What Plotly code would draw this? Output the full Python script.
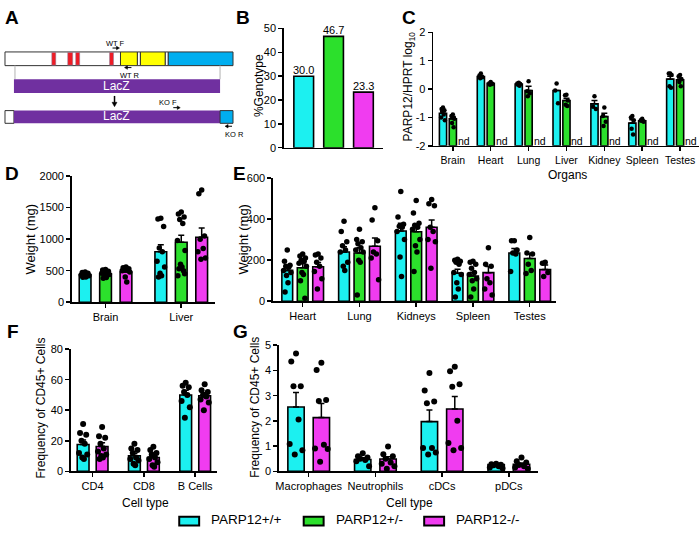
import plotly.graph_objects as go

W, H = 700, 534
FONT = "Arial, Liberation Sans, sans-serif"
CYAN = "#1CF0F0"
GREEN = "#2CE02C"
MAGENTA = "#F03CF0"

genotypes = ["PARP12+/+", "PARP12+/-", "PARP12-/-"]

# ---------------- Panel B ----------------
b_values = [30.0, 46.7, 23.3]

# ---------------- Panel C ----------------
c_organs = ["Brain", "Heart", "Lung", "Liver", "Kidney", "Spleen", "Testes"]
c_wt_mean = [-0.85, 0.44, 0.18, -0.05, -0.52, -1.2, 0.35]
c_wt_sem = [0.07, 0.04, 0.03, 0.0, 0.12, 0.12, 0.1]
c_het_mean = [-1.05, 0.2, -0.05, -0.4, -0.97, -1.12, 0.33]
c_het_sem = [0.08, 0.03, 0.15, 0.08, 0.12, 0.03, 0.06]
c_ko_label = ["nd"] * 7
c_wt_pts = [[-0.65, -0.7, -0.75, -0.8, -0.9, -1.0, -1.1],
            [0.55, 0.48, 0.42, 0.38],
            [0.22, 0.2, 0.18, 0.15, 0.12],
            [0.2, -0.05, -0.5],
            [-0.25, -0.62, -0.7],
            [-0.95, -1.0, -1.1, -1.4, -1.6],
            [0.55, 0.55, 0.5, 0.1, 0.05]]
c_het_pts = [[-0.9, -0.95, -1.05, -1.2, -1.35],
             [0.25, 0.2, 0.18, 0.15],
             [0.28, -0.08, -0.15, -0.25],
             [-0.2, -0.22, -0.4, -0.55, -0.6],
             [-0.65, -0.95, -1.15, -1.3],
             [-1.05, -1.1, -1.15, -1.12],
             [0.5, 0.45, 0.35, 0.25, 0.1]]

# ---------------- Panel D ----------------
d_organs = ["Brain", "Liver"]
d_wt_mean = [440, 800]
d_het_mean = [450, 950]
d_ko_mean = [480, 1030]
d_wt_sem = [12, 110]
d_het_sem = [15, 110]
d_ko_sem = [22, 145]
d_wt_pts = [[480, 470, 460, 450, 440, 430, 420, 410, 400, 395],
            [1330, 1320, 1200, 860, 800, 650, 560, 460, 420, 400]]
d_het_pts = [[520, 510, 490, 480, 470, 460, 440, 420, 390, 380],
             [1430, 1400, 1350, 1310, 1250, 980, 820, 600, 560, 530, 500, 450, 420]]
d_ko_pts = [[560, 545, 530, 520, 510, 500, 480, 400, 320],
            [1780, 1720, 1050, 1000, 850, 800, 700, 680]]

# ---------------- Panel E ----------------
e_organs = ["Heart", "Lung", "Kidneys", "Spleen", "Testes"]
e_wt_mean = [150, 240, 342, 136, 235]
e_het_mean = [163, 235, 338, 123, 208]
e_ko_mean = [168, 268, 360, 139, 154]
e_wt_sem = [15, 25, 38, 20, 22]
e_het_sem = [20, 25, 32, 18, 25]
e_ko_sem = [20, 40, 35, 30, 22]
e_wt_pts = [[250, 195, 175, 170, 165, 150, 140, 125, 90, 45],
            [390, 340, 290, 270, 250, 240, 190, 170, 150],
            [535, 410, 375, 365, 360, 340, 300, 215, 120],
            [205, 200, 195, 190, 180, 140, 130, 90, 60, 20],
            [295, 295, 250, 235, 230, 145]]
e_het_pts = [[230, 220, 210, 200, 195, 185, 170, 140, 130, 100, 15],
             [350, 300, 290, 280, 260, 250, 240, 200, 190, 30],
             [490, 430, 380, 370, 360, 350, 300, 270, 240, 145],
             [195, 190, 180, 160, 140, 130, 110, 100, 60, 20],
             [310, 235, 230, 180, 150, 135]]
e_ko_pts = [[230, 225, 210, 190, 170, 145, 110, 60],
            [455, 395, 295, 240, 230, 210, 105],
            [495, 475, 465, 360, 340, 300, 290, 160],
            [260, 180, 170, 110, 90, 60, 30],
            [190, 185, 140, 120]]

# ---------------- Panel F ----------------
f_cells = ["CD4", "CD8", "B Cells"]
f_wt_mean = [17.5, 10.2, 50.0]
f_ko_mean = [16.2, 9.0, 49.5]
f_wt_sem = [3.0, 1.7, 3.0]
f_ko_sem = [2.5, 1.5, 2.0]
f_wt_pts = [[31, 25, 24, 20, 18, 12, 11, 9, 8],
            [18, 15, 14, 12, 9, 8, 7, 5, 4],
            [58, 56, 55, 52, 50, 46, 42, 35]]
f_ko_pts = [[29, 23, 22, 18, 15, 13, 11, 10, 9, 8],
            [16, 14, 12, 11, 9, 8, 6, 4, 3],
            [57, 53, 52, 50, 49, 47, 45, 40]]

# ---------------- Panel G ----------------
g_cells = ["Macrophages", "Neutrophils", "cDCs", "pDCs"]
g_wt_mean = [2.55, 0.47, 1.97, 0.27]
g_ko_mean = [2.13, 0.49, 2.47, 0.28]
g_wt_sem = [0.57, 0.07, 0.46, 0.03]
g_ko_sem = [0.56, 0.09, 0.5, 0.05]
g_wt_pts = [[4.67, 4.35, 3.37, 3.37, 2.05, 1.08, 0.83, 0.67],
            [0.72, 0.6, 0.55, 0.5, 0.45, 0.4, 0.2],
            [3.9, 3.2, 2.77, 2.7, 0.92, 0.92, 0.75, 0.67],
            [0.3, 0.28, 0.26, 0.24, 0.2, 0.15, 0.12]]
g_ko_pts = [[4.3, 4.02, 2.83, 2.79, 1.05, 0.9, 0.88, 0.38],
            [0.98, 0.68, 0.6, 0.5, 0.35, 0.3, 0.2, 0.1],
            [4.15, 3.97, 3.45, 3.35, 2.0, 1.12, 0.92, 0.83],
            [0.55, 0.4, 0.35, 0.25, 0.2, 0.15, 0.1]]

# ======================================================================
fig = go.Figure()
JIT = [0.0, -0.75, 0.75, -0.4, 0.4, -1.0, 1.0, -0.2, 0.2, -0.6, 0.6, 0.9, -0.9]
shapes = []
annots = []


def ax_names(n):
    return ("xaxis" if n == 1 else f"xaxis{n}", "yaxis" if n == 1 else f"yaxis{n}",
            "x" if n == 1 else f"x{n}", "y" if n == 1 else f"y{n}")


def panel(n, xd, yd, xr, yr, yticks, tickvals=None, ticktext=None, xticks=True,
          xfont=11, yticktext=None):
    xk, yk, xr_, yr_ = ax_names(n)
    common = dict(showline=True, linecolor="black", linewidth=1.5, showgrid=False,
                  zeroline=False, ticklen=4, tickwidth=1.5, tickcolor="black",
                  fixedrange=True)
    xa = dict(domain=[xd[0] / W, xd[1] / W], range=xr, anchor=yr_,
              ticks="outside" if xticks else "",
              tickfont=dict(size=xfont, color="black", family=FONT), **common)
    if tickvals is not None:
        xa.update(tickvals=tickvals, ticktext=ticktext)
    else:
        xa.update(showticklabels=False)
    fig.layout[xk] = xa
    fig.layout[yk] = dict(domain=[1 - yd[1] / H, 1 - yd[0] / H], range=yr, anchor=xr_,
                          ticks="outside", tickvals=yticks,
                          ticktext=yticktext if yticktext else ["%g" % t for t in yticks],
                          tickfont=dict(size=11, color="black", family=FONT), **common)


def bars(n, centers, offset, width, heights, sems, color, base=None):
    _, _, xr_, yr_ = ax_names(n)
    fig.add_trace(go.Bar(
        x=[c + offset for c in centers], y=heights, width=width, base=base,
        marker=dict(color=color, line=dict(color="black", width=1.6)),
        error_y=None if sems is None else dict(type="data", array=sems,
                                               arrayminus=[0] * len(sems), symmetric=False,
                                               color="black", thickness=1.5, width=3),
        xaxis=xr_, yaxis=yr_, showlegend=False, hoverinfo="skip"))


def dots(n, centers, offset, spread, pts, size):
    _, _, xr_, yr_ = ax_names(n)
    xs, ys = [], []
    for c, plist in zip(centers, pts):
        for i, v in enumerate(plist):
            xs.append(c + offset + JIT[i % len(JIT)] * spread)
            ys.append(v)
    fig.add_trace(go.Scatter(x=xs, y=ys, mode="markers", cliponaxis=False,
                             marker=dict(color="black", size=size, line=dict(width=0)),
                             xaxis=xr_, yaxis=yr_, showlegend=False, hoverinfo="skip"))


def data_label(n, x, y, s, size=11, yshift=-2):
    _, _, xr_, yr_ = ax_names(n)
    annots.append(dict(x=x, y=y, xref=xr_, yref=yr_, text=s, showarrow=False,
                       xanchor="center", yanchor="bottom", yshift=yshift,
                       font=dict(size=size, color="black", family=FONT)))


# ---- B ----
panel(1, (282, 382), (23, 145), [-0.667, 2.667], [0, 50], [0, 10, 20, 30, 40, 50], xticks=False)
for i, (v, col) in enumerate(zip(b_values, [CYAN, GREEN, MAGENTA])):
    bars(1, [i], 0, 0.66, [v], None, col)
    data_label(1, i, v, "%.1f" % v)

# ---- C ----
cpos = list(range(len(c_organs)))
panel(2, (432, 699), (27, 143), [-0.52, 6.5], [-2, 2], [-2, -1, 0, 1, 2], cpos, c_organs,
      xfont=10.5, yticktext=["-2", "-1", "0", "1", "2"])
cw, co = 0.19, 0.26
bars(2, cpos, -co, cw, [m + 2 for m in c_wt_mean], c_wt_sem, CYAN, base=[-2] * 7)
bars(2, cpos, 0, cw, [m + 2 for m in c_het_mean], c_het_sem, GREEN, base=[-2] * 7)
dots(2, cpos, -co, 0.05, c_wt_pts, 4.5)
dots(2, cpos, 0, 0.05, c_het_pts, 4.5)
for p, s in zip(cpos, c_ko_label):
    data_label(2, p + 0.29, -2, s, size=10.5, yshift=-3)

# ---- D ----
dpos = [0, 1]
panel(3, (69, 213), (174, 303), [-0.447, 1.447], [0, 2000], [0, 500, 1000, 1500, 2000], dpos, d_organs)
dw, do = 0.155, 0.27
bars(3, dpos, -do, dw, d_wt_mean, d_wt_sem, CYAN)
bars(3, dpos, 0, dw, d_het_mean, d_het_sem, GREEN)
bars(3, dpos, do, dw, d_ko_mean, d_ko_sem, MAGENTA)
dots(3, dpos, -do, 0.05, d_wt_pts, 5.5)
dots(3, dpos, 0, 0.05, d_het_pts, 5.5)
dots(3, dpos, do, 0.05, d_ko_pts, 5.5)

# ---- E ----
epos = list(range(len(e_organs)))
panel(4, (271, 555), (176, 302), [-0.526, 4.456], [0, 600], [0, 200, 400, 600], epos, e_organs)
ew, eo = 0.19, 0.272
bars(4, epos, -eo, ew, e_wt_mean, e_wt_sem, CYAN)
bars(4, epos, 0, ew, e_het_mean, e_het_sem, GREEN)
bars(4, epos, eo, ew, e_ko_mean, e_ko_sem, MAGENTA)
dots(4, epos, -eo, 0.065, e_wt_pts, 5.5)
dots(4, epos, 0, 0.065, e_het_pts, 5.5)
dots(4, epos, eo, 0.065, e_ko_pts, 5.5)

# ---- F ----
fpos = [0, 1, 2]
panel(5, (68, 215), (351, 476), [-0.427, 2.427], [0, 80], [0, 20, 40, 60, 80], fpos, f_cells)
fw, fo = 0.23, 0.185
bars(5, fpos, -fo, fw, f_wt_mean, f_wt_sem, CYAN)
bars(5, fpos, fo, fw, f_ko_mean, f_ko_sem, MAGENTA)
dots(5, fpos, -fo, 0.08, f_wt_pts, 6)
dots(5, fpos, fo, 0.08, f_ko_pts, 6)

# ---- G ----
gpos = [0, 1, 2, 3]
panel(6, (277, 537), (347, 476), [-0.448, 3.433], [0, 5], [0, 1, 2, 3, 4, 5], gpos, g_cells)
gw, go_ = 0.245, 0.19
bars(6, gpos, -go_, gw, g_wt_mean, g_wt_sem, CYAN)
bars(6, gpos, go_, gw, g_ko_mean, g_ko_sem, MAGENTA)
dots(6, gpos, -go_, 0.095, g_wt_pts, 6)
dots(6, gpos, go_, 0.095, g_ko_pts, 6)

# ======================================================================


def X(x):
    return x / W


def Y(y):
    return 1 - y / H


def rect(x0, y0, x1, y1, fill, line="#333333", lw=1):
    shapes.append(dict(type="rect", xref="paper", yref="paper", x0=X(x0), x1=X(x1),
                       y0=Y(y1), y1=Y(y0), fillcolor=fill,
                       line=dict(color=line, width=lw), layer="above"))


def line(x0, y0, x1, y1, color, lw):
    shapes.append(dict(type="line", xref="paper", yref="paper", x0=X(x0), x1=X(x1),
                       y0=Y(y0), y1=Y(y1), line=dict(color=color, width=lw), layer="above"))


def tri(pts):
    d = "M " + " L ".join("%.5f,%.5f" % (X(a), Y(b)) for a, b in pts) + " Z"
    shapes.append(dict(type="path", xref="paper", yref="paper", path=d,
                       fillcolor="black", line=dict(color="black", width=0.5), layer="above"))


def harrow(x_tail, x_tip, y):
    d = 1 if x_tip > x_tail else -1
    line(x_tail, y, x_tip - d * 2.5, y, "black", 1)
    tri([(x_tip, y), (x_tip - d * 3, y - 1.8), (x_tip - d * 3, y + 1.8)])


def text(x, y, s, size=12, color="black", bold=False, xanchor="center", yanchor="middle", angle=0):
    annots.append(dict(x=X(x), y=Y(y), xref="paper", yref="paper", text=s, showarrow=False,
                       xanchor=xanchor, yanchor=yanchor, textangle=angle,
                       font=dict(size=size, color=color, family=FONT,
                                 weight="bold" if bold else "normal")))


# ---- Panel A schematic ----
RED, YEL, BLUE, PURP = "#EE1C25", "#FFFF00", "#00AEEF", "#7030A0"
rect(2, 47, 118, 61, "white")
for a, b in [(49, 53), (65, 70), (73, 77), (107, 111)]:
    rect(a, 47.5, b, 60.5, RED, line="#8080a0", lw=0.5)
rect(118, 47, 135, 61, YEL)
rect(135, 47, 138, 61, "white")
rect(138, 47, 163, 61, YEL)
rect(163, 47, 166, 61, "white")
rect(166, 47, 231, 61, BLUE)
line(12, 61, 12, 75, "#cccccc", 1.5)
line(218, 61, 218, 75, "#cccccc", 1.5)
rect(11, 75, 218, 89, PURP, line=PURP, lw=0)
text(114, 82, "LacZ", size=12, color="white")
line(112, 92, 112, 99, "black", 1.5)
tri([(112, 103), (109.5, 98.5), (114.5, 98.5)])
text(113, 38, "WT F", size=7.5)
harrow(110, 117, 43)
harrow(129, 122, 63)
text(128, 71, "WT R", size=7.5)
text(166, 99, "KO F", size=7.5)
harrow(171, 178, 104)
rect(2, 107, 11, 120, "white")
rect(11, 107, 218, 120, PURP, line=PURP, lw=0)
rect(218, 107, 231, 120, BLUE)
text(114, 113, "LacZ", size=12, color="white")
harrow(230, 223, 123)
text(232, 131, "KO R", size=7.5)

# ---- panel letters ----
for lab, x, y in [("A", 0, 11.5), ("B", 232, 11.5), ("C", 399, 11.5), ("D", 0, 171.5),
                  ("E", 229, 171.5), ("F", 2, 332.5), ("G", 229, 332.5)]:
    text(x, y, lab, size=19, bold=True, xanchor="left")

# ---- axis titles ----
text(257, 81, "%Genotype", size=12, angle=-90)
text(408, 82, "PARP12/HPRT log<sub>10</sub>", size=12, angle=-90)
text(567, 173, "Organs", size=12)
text(28, 238, "Weight (mg)", size=13, angle=-90)
text(242, 238, "Weight (mg)", size=13, angle=-90)
text(38, 411, "Frequency of CD45+ Cells", size=12, angle=-90)
text(253, 410, "Frequency of CD45+ Cells", size=12, angle=-90)
text(143, 508, "Cell type", size=12)
text(408, 508, "Cell type", size=12)

# ---- legend ----
for (bx, tx), g, col in zip([(177, 207), (302, 332), (423, 453)], genotypes, [CYAN, GREEN, MAGENTA]):
    rect(bx, 522.5, bx + 20, 531.5, col, line="black", lw=2)
    text(tx, 525.5, g, size=13.5, xanchor="left")

fig.update_layout(width=W, height=H, margin=dict(l=0, r=0, t=0, b=0),
                  paper_bgcolor="white", plot_bgcolor="rgba(0,0,0,0)",
                  barmode="overlay", showlegend=False, hovermode=False,
                  font=dict(family=FONT, color="black"),
                  shapes=shapes, annotations=annots)
fig.write_html("out.html", config={"displayModeBar": False, "staticPlot": True},
               post_script="document.body.style.margin='0';document.body.style.overflow='hidden';")
